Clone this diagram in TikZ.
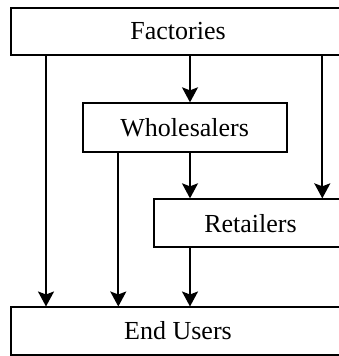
\documentclass[tikz,border=0pt]{standalone}
\usepackage{fontspec}
\setmainfont{Liberation Serif}
\usetikzlibrary{arrows.meta}
\begin{document}
\begin{tikzpicture}[x=1pt,y=1pt,
  box/.style={draw, line width=1.9pt, rectangle, inner sep=0pt, font=\fontsize{26}{30}\selectfont},
  arr/.style={line width=1.9pt, -{Stealth[length=15pt,width=16pt,inset=3pt]}}]
\useasboundingbox (0,0) rectangle (339,356);
\clip (0,0) rectangle (339,356);
\node[box, minimum width=334pt, minimum height=47pt] (F) at (178,324.5) {Factories};
\node[box, minimum width=204pt, minimum height=48.4pt] (W) at (184.7,228.5) {Wholesalers};
\node[box, minimum width=193pt, minimum height=48pt] (R) at (250.5,132.7) {Retailers};
\node[box, minimum width=334pt, minimum height=47.3pt] (E) at (178,24.9) {End Users};
\coordinate (xa) at (46,0);
\coordinate (xb) at (190,0);
\coordinate (xc) at (322.3,0);
\coordinate (xd) at (118.3,0);
\draw[arr] (F.south -| xa) -- (E.north -| xa);
\draw[arr] (F.south -| xb) -- (W.north -| xb);
\draw[arr] (F.south -| xc) -- (R.north -| xc);
\draw[arr] (W.south -| xd) -- (E.north -| xd);
\draw[arr] (W.south -| xb) -- (R.north -| xb);
\draw[arr] (R.south -| xb) -- (E.north -| xb);
\end{tikzpicture}
\end{document}
